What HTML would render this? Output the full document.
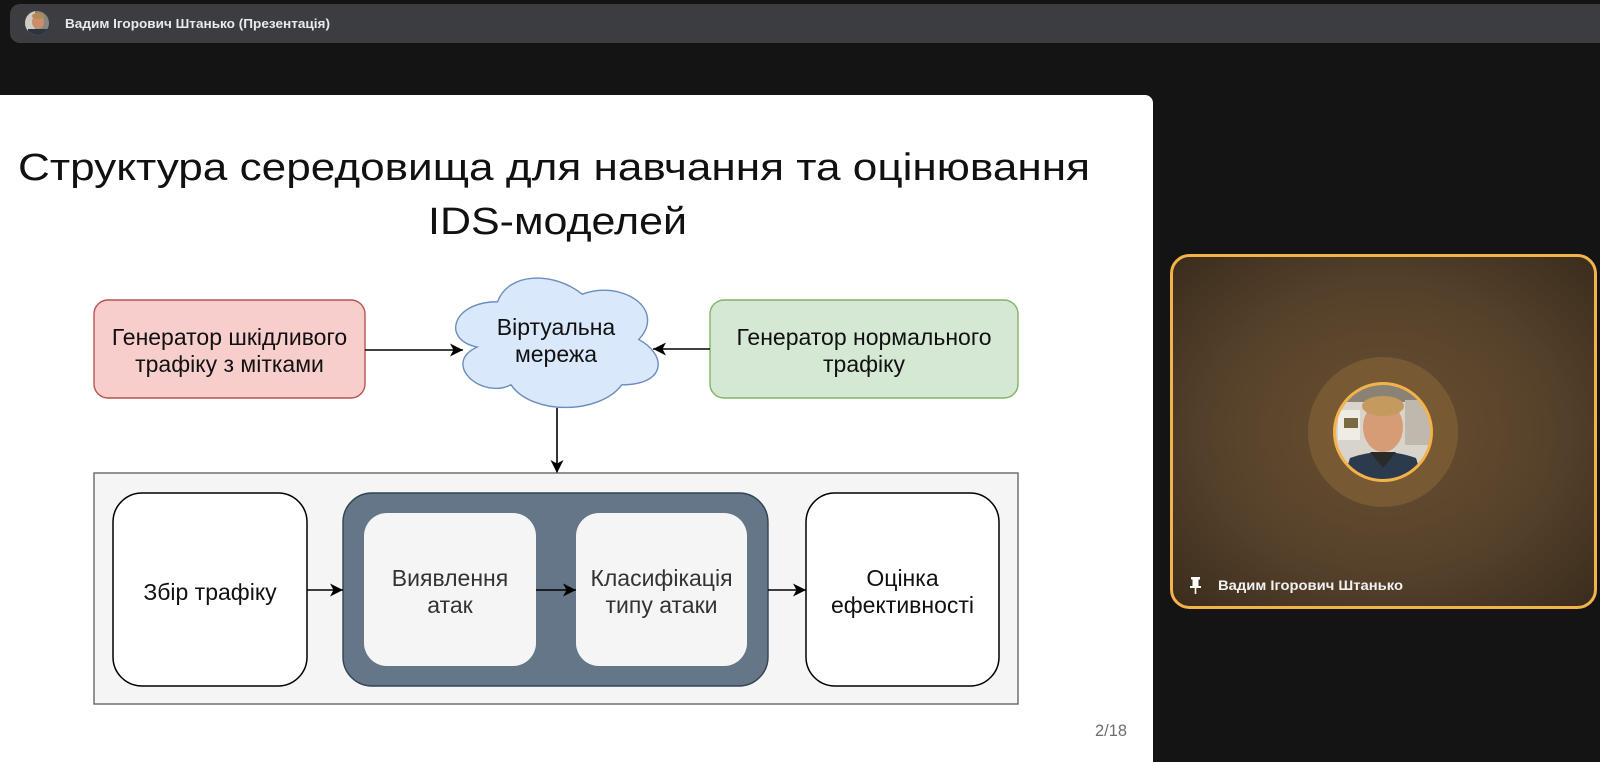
<!DOCTYPE html>
<html>
<head>
<meta charset="utf-8">
<style>
  html,body{margin:0;padding:0;background:#141414;}
  body{width:1600px;height:762px;overflow:hidden;position:relative;}
  svg{position:absolute;left:0;top:0;}
  .t{font-family:"Liberation Sans",Arial,sans-serif;}
</style>
</head>
<body>
<svg width="1600" height="762" viewBox="0 0 1600 762" xmlns="http://www.w3.org/2000/svg">
  <defs>
    <radialGradient id="tileg" cx="50%" cy="50%" r="70%">
      <stop offset="0%" stop-color="#6a5030"/>
      <stop offset="60%" stop-color="#54402a"/>
      <stop offset="100%" stop-color="#3a2c1c"/>
    </radialGradient>
    <clipPath id="pc"><circle cx="1383" cy="432" r="48"/></clipPath>
    <clipPath id="sc"><circle cx="37" cy="23" r="12"/></clipPath>
    <marker id="ah" viewBox="0 0 13 13" refX="13" refY="6.5" markerWidth="13" markerHeight="13" markerUnits="userSpaceOnUse" orient="auto">
      <path d="M0,0 L13,6.5 L0,13 L3.5,6.5 Z" fill="#000"/>
    </marker>
  </defs>

  <!-- background -->
  <rect x="0" y="0" width="1600" height="762" fill="#141414"/>

  <!-- top bar -->
  <rect x="10" y="4" width="1600" height="39" rx="10" fill="#3c3d40"/>
  <g clip-path="url(#sc)">
    <rect x="25" y="11" width="24" height="24" fill="#8a8580"/>
    <rect x="25" y="11" width="10" height="24" fill="#cfcac2"/>
    <ellipse cx="38" cy="22" rx="6" ry="7" fill="#c98f6a"/>
    <ellipse cx="38" cy="16" rx="6" ry="3" fill="#b58a52"/>
    <rect x="28" y="29" width="20" height="8" fill="#2c3444"/>
  </g>
  <text class="t" x="65" y="28" font-size="13" font-weight="bold" fill="#e8eaed" textLength="265" lengthAdjust="spacingAndGlyphs">Вадим Ігорович Штанько (Презентація)</text>

  <!-- slide -->
  <rect x="-12" y="95" width="1165" height="700" rx="8" fill="#ffffff"/>

  <!-- title -->
  <text class="t" x="18" y="180" font-size="38" fill="#111" textLength="1072" lengthAdjust="spacingAndGlyphs">Структура середовища для навчання та оцінювання</text>
  <text class="t" x="428" y="234" font-size="38" fill="#111" textLength="259" lengthAdjust="spacingAndGlyphs">IDS-моделей</text>

  <!-- red box -->
  <rect x="94" y="300" width="271" height="98" rx="14" fill="#f8cecc" stroke="#b85450" stroke-width="1.4"/>
  <text class="t" x="229.5" y="345" font-size="23" fill="#111" text-anchor="middle">Генератор шкідливого</text>
  <text class="t" x="229.5" y="372" font-size="23" fill="#111" text-anchor="middle">трафіку з мітками</text>

  <!-- green box -->
  <rect x="710" y="300" width="308" height="98" rx="14" fill="#d5e8d4" stroke="#82b366" stroke-width="1.4"/>
  <text class="t" x="864" y="345" font-size="23" fill="#111" text-anchor="middle">Генератор нормального</text>
  <text class="t" x="864" y="372" font-size="23" fill="#111" text-anchor="middle">трафіку</text>

  <!-- cloud (x0=441, y0=264, w=226, h=151) -->
  <path d="M 497.5 301.75 C 452.3 301.75, 441 339.5, 477.16 347.05 C 441 363.66, 481.68 399.9, 511.06 384.8 C 531.4 415, 599.2 415, 621.8 384.8 C 667 384.8, 667 354.6, 638.75 339.5 C 667 309.3, 621.8 279.1, 582.25 294.2 C 554 271.55, 508.8 271.55, 497.5 301.75 Z" fill="#dae8fc" stroke="#6c8ebf" stroke-width="1.4"/>
  <text class="t" x="556" y="335" font-size="23" fill="#111" text-anchor="middle">Віртуальна</text>
  <text class="t" x="556" y="362" font-size="23" fill="#111" text-anchor="middle">мережа</text>

  <!-- top arrows -->
  <line x1="365" y1="350" x2="463" y2="350" stroke="#000" stroke-width="1.6" marker-end="url(#ah)"/>
  <line x1="710" y1="349" x2="653" y2="349" stroke="#000" stroke-width="1.6" marker-end="url(#ah)"/>
  <line x1="557" y1="408" x2="557" y2="473" stroke="#000" stroke-width="1.6" marker-end="url(#ah)"/>

  <!-- outer container -->
  <rect x="94" y="473" width="924" height="231" fill="#f5f5f5" stroke="#666666" stroke-width="1.4"/>

  <!-- Збір трафіку -->
  <rect x="113" y="493" width="194" height="193" rx="29" fill="#ffffff" stroke="#000" stroke-width="1.5"/>
  <text class="t" x="210" y="600" font-size="23" fill="#111" text-anchor="middle">Збір трафіку</text>

  <!-- dark container -->
  <rect x="343" y="493" width="425" height="193" rx="29" fill="#647687" stroke="#314354" stroke-width="1.4"/>
  <rect x="364" y="513" width="172" height="153" rx="23" fill="#f5f5f5"/>
  <text class="t" x="450" y="586" font-size="23" fill="#333" text-anchor="middle">Виявлення</text>
  <text class="t" x="450" y="613" font-size="23" fill="#333" text-anchor="middle">атак</text>
  <rect x="576" y="513" width="171" height="153" rx="23" fill="#f5f5f5"/>
  <text class="t" x="661.5" y="586" font-size="23" fill="#333" text-anchor="middle">Класифікація</text>
  <text class="t" x="661.5" y="613" font-size="23" fill="#333" text-anchor="middle">типу атаки</text>

  <!-- Оцінка -->
  <rect x="806" y="493" width="193" height="193" rx="29" fill="#ffffff" stroke="#000" stroke-width="1.5"/>
  <text class="t" x="902.5" y="586" font-size="23" fill="#111" text-anchor="middle">Оцінка</text>
  <text class="t" x="902.5" y="613" font-size="23" fill="#111" text-anchor="middle">ефективності</text>

  <!-- bottom arrows -->
  <line x1="307" y1="590" x2="343" y2="590" stroke="#000" stroke-width="1.6" marker-end="url(#ah)"/>
  <line x1="536" y1="590" x2="576" y2="590" stroke="#000" stroke-width="1.6" marker-end="url(#ah)"/>
  <line x1="768" y1="590" x2="806" y2="590" stroke="#000" stroke-width="1.6" marker-end="url(#ah)"/>

  <!-- page number -->
  <text class="t" x="1095" y="736" font-size="16.5" fill="#6e6e6e" textLength="32" lengthAdjust="spacingAndGlyphs">2/18</text>

  <!-- video tile -->
  <rect x="1171.5" y="255.5" width="424" height="352" rx="18" fill="url(#tileg)" stroke="#f3b24a" stroke-width="3"/>
  <circle cx="1383" cy="432" r="75" fill="#775a34"/>
  <g clip-path="url(#pc)">
    <rect x="1330" y="380" width="110" height="110" fill="#d8d4cc"/>
    <rect x="1330" y="380" width="110" height="22" fill="#8a8275"/>
    <rect x="1338" y="410" width="22" height="30" fill="#efece6"/>
    <rect x="1344" y="418" width="14" height="10" fill="#7a6a40"/>
    <rect x="1405" y="400" width="30" height="45" fill="#bfb8ac"/>
    <ellipse cx="1383" cy="427" rx="20" ry="25" fill="#d59c76"/>
    <ellipse cx="1383" cy="406" rx="21" ry="10" fill="#c59a5e"/>
    <path d="M1340 490 L1350 458 Q1383 446 1416 458 L1426 490 Z" fill="#2c3a4e"/>
    <path d="M1370 452 L1383 468 L1396 452 Z" fill="#2a2a2a"/>
  </g>
  <circle cx="1383" cy="432" r="48.5" fill="none" stroke="#f3b24a" stroke-width="3"/>
  <!-- pin icon -->
  <g fill="#ffffff">
    <rect x="1191" y="577" width="9" height="2.5"/>
    <rect x="1192.5" y="579" width="6" height="7"/>
    <rect x="1190" y="586" width="11" height="2"/>
    <rect x="1194.7" y="588" width="1.6" height="6"/>
  </g>
  <text class="t" x="1218" y="590" font-size="14" font-weight="bold" fill="#f1f1f1" textLength="185" lengthAdjust="spacingAndGlyphs">Вадим Ігорович Штанько</text>
</svg>
</body>
</html>
